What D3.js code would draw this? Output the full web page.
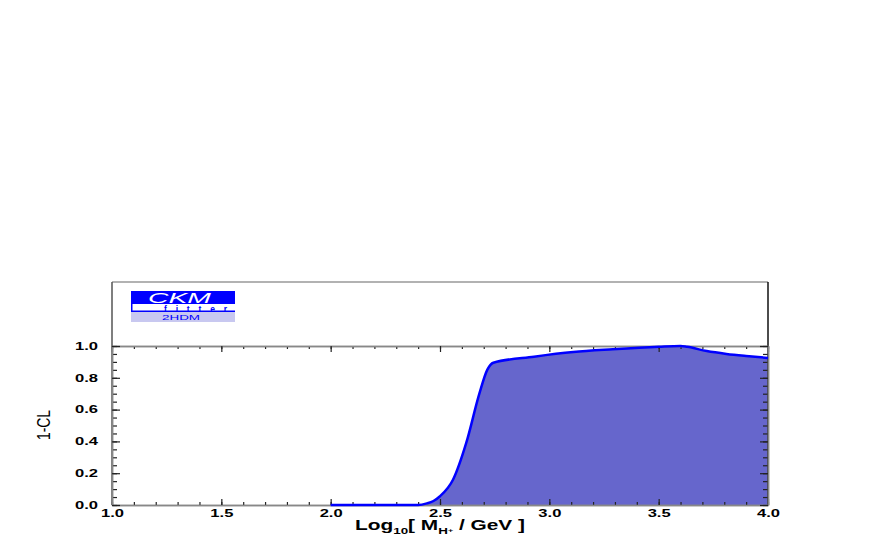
<!DOCTYPE html>
<html>
<head>
<meta charset="utf-8">
<script src="https://cdn.jsdelivr.net/npm/d3@7"></script>
<style>
  body { margin: 0; background: #fff; }
  text { font-family: "Liberation Sans", Arial, sans-serif; }
</style>
</head>
<body>
<div id="chart"></div>
<script>
// log10(M_H+ / GeV) and 1-CL
var logMass = [2.0, 2.1, 2.2, 2.3, 2.4, 2.44, 2.47, 2.5, 2.56, 2.62, 2.68, 2.716, 2.744, 2.93, 3.11, 3.29, 3.5, 3.6, 3.63, 3.72, 3.81, 3.9, 4.0];
var oneMinusCL = [0, 0, 0, 0, 0, 0.01, 0.025, 0.055, 0.16, 0.39, 0.70, 0.85, 0.895, 0.933, 0.962, 0.979, 0.995, 1.0, 0.995, 0.968, 0.95, 0.937, 0.925];

var xMajor = [1.0, 1.5, 2.0, 2.5, 3.0, 3.5, 4.0];
var xMinor = d3.range(10, 41).map(function (d) { return d / 10; });
var yMajor = [0, 0.2, 0.4, 0.6, 0.8, 1.0];
var yMinor = d3.range(0, 21).map(function (d) { return d / 20; });

function draw() {

  var width = 872, height = 545;
  var plotLeft = 112, plotRight = 768, plotBottom = 505, plotTop = 346, frameTop = 282;

  var svg = d3.select('#chart').append('svg')
    .attr('width', width)
    .attr('height', height);

  var x = d3.scaleLinear().domain([1, 4]).range([plotLeft, plotRight]);
  var y = d3.scaleLinear().domain([0, 1]).range([plotBottom, plotTop]);

  var data = logMass.map(function (m, i) { return { m: m, v: oneMinusCL[i] }; });

  // filled region
  var area = d3.area()
    .x(function (d) { return x(d.m); })
    .y0(y(0))
    .y1(function (d) { return y(d.v); })
    .curve(d3.curveMonotoneX);

  svg.append('path')
    .datum(data)
    .attr('d', area)
    .attr('fill', '#6666cc');

  var line = d3.line()
    .x(function (d) { return x(d.m); })
    .y(function (d) { return y(d.v); })
    .curve(d3.curveMonotoneX);

  // frame lines
  svg.append('line').attr('x1', plotLeft).attr('x2', plotRight).attr('y1', frameTop).attr('y2', frameTop)
    .attr('stroke', '#999').attr('stroke-width', 1.5);
  svg.append('line').attr('x1', plotLeft).attr('x2', plotLeft).attr('y1', frameTop).attr('y2', plotBottom)
    .attr('stroke', '#555').attr('stroke-width', 1.5);
  svg.append('line').attr('x1', plotRight).attr('x2', plotRight).attr('y1', frameTop).attr('y2', plotBottom)
    .attr('stroke', '#111').attr('stroke-width', 1.5);

  function styleAxis(g) {
    g.select('.domain').attr('stroke', '#888').attr('stroke-width', 1.5);
    g.selectAll('.tick line').attr('stroke', '#222').attr('stroke-width', 1.2);
    g.selectAll('text')
      .attr('font-family', '"Liberation Sans", Arial, sans-serif')
      .attr('font-weight', 'bold')
      .attr('font-size', 10)
      .attr('fill', '#000')
      .attr('textLength', 23)
      .attr('lengthAdjust', 'spacingAndGlyphs');
  }

  // bottom axis
  svg.append('g').attr('transform', 'translate(0,' + plotBottom + ')')
    .call(d3.axisBottom(x).tickValues(xMinor).tickSize(-3).tickFormat('').tickSizeOuter(0))
    .call(styleAxis);
  svg.append('g').attr('transform', 'translate(0,' + plotBottom + ')')
    .call(d3.axisBottom(x).tickValues(xMajor).tickSize(-6).tickPadding(5).tickFormat(d3.format('.1f')).tickSizeOuter(0))
    .call(styleAxis);

  // top axis of the plot area
  svg.append('g').attr('transform', 'translate(0,' + plotTop + ')')
    .call(d3.axisTop(x).tickValues(xMinor).tickSize(-3).tickFormat('').tickSizeOuter(0))
    .call(styleAxis);
  svg.append('g').attr('transform', 'translate(0,' + plotTop + ')')
    .call(d3.axisTop(x).tickValues(xMajor).tickSize(-6).tickFormat('').tickSizeOuter(0))
    .call(styleAxis);

  // left axis
  svg.append('g').attr('transform', 'translate(' + plotLeft + ',0)')
    .call(d3.axisLeft(y).tickValues(yMinor).tickSize(-5).tickFormat('').tickSizeOuter(0))
    .call(styleAxis);
  svg.append('g').attr('transform', 'translate(' + plotLeft + ',0)')
    .call(d3.axisLeft(y).tickValues(yMajor).tickSize(-8).tickPadding(14).tickFormat(d3.format('.1f')).tickSizeOuter(0))
    .call(styleAxis);

  // right axis
  svg.append('g').attr('transform', 'translate(' + plotRight + ',0)')
    .call(d3.axisRight(y).tickValues(yMinor).tickSize(-5).tickFormat('').tickSizeOuter(0))
    .call(styleAxis);
  svg.append('g').attr('transform', 'translate(' + plotRight + ',0)')
    .call(d3.axisRight(y).tickValues(yMajor).tickSize(-8).tickFormat('').tickSizeOuter(0))
    .call(styleAxis);

  // curve outline on top
  svg.append('path')
    .datum(data)
    .attr('d', line)
    .attr('fill', 'none')
    .attr('stroke', '#0000ff')
    .attr('stroke-width', 2.5)
    .attr('stroke-linejoin', 'round');

  // axis titles
  var xt = svg.append('text')
    .attr('transform', 'translate(355,530) scale(1.49,1)')
    .attr('font-weight', 'bold').attr('font-size', 14);
  xt.append('tspan').text('Log');
  xt.append('tspan').attr('font-size', 9).attr('dy', 4).text('10');
  xt.append('tspan').attr('dy', -4).text('[ M');
  xt.append('tspan').attr('font-size', 9).attr('dy', 4).text('H');
  xt.append('tspan').attr('font-size', 6).attr('dy', -2).text('+');
  xt.append('tspan').attr('dy', -2).text(' / GeV ]');

  svg.append('text')
    .attr('transform', 'translate(50,425) rotate(-90)')
    .attr('text-anchor', 'middle')
    .attr('font-size', 18)
    .attr('textLength', 30)
    .attr('lengthAdjust', 'spacingAndGlyphs')
    .text('1-CL');

  // CKMfitter logo
  var logo = svg.append('g').attr('transform', 'translate(131,291)');
  logo.append('rect').attr('width', 104).attr('height', 13).attr('fill', '#0000ff');
  logo.append('rect').attr('x', 0).attr('y', 13).attr('width', 1.5).attr('height', 8).attr('fill', '#0000ff');
  logo.append('rect').attr('x', 0).attr('y', 19.5).attr('width', 104).attr('height', 1.5).attr('fill', '#0000ff');
  logo.append('rect').attr('x', 0).attr('y', 21).attr('width', 104).attr('height', 10).attr('fill', '#c8c8f0');
  logo.append('text').attr('x', 17).attr('y', 12)
    .attr('font-size', 15).attr('font-style', 'italic').attr('fill', '#fff')
    .attr('textLength', 63).attr('lengthAdjust', 'spacingAndGlyphs').text('CKM');
  logo.append('text').attr('x', 33).attr('y', 20.5)
    .attr('font-size', 8.5).attr('font-weight', 'bold').attr('fill', '#0000ff')
    .attr('textLength', 63).attr('lengthAdjust', 'spacing').text('fitter');
  logo.append('text').attr('x', 31).attr('y', 29)
    .attr('font-size', 8).attr('fill', '#0000ff')
    .attr('textLength', 38).attr('lengthAdjust', 'spacingAndGlyphs').text('2HDM');
}

draw();
</script>
</body>
</html>
